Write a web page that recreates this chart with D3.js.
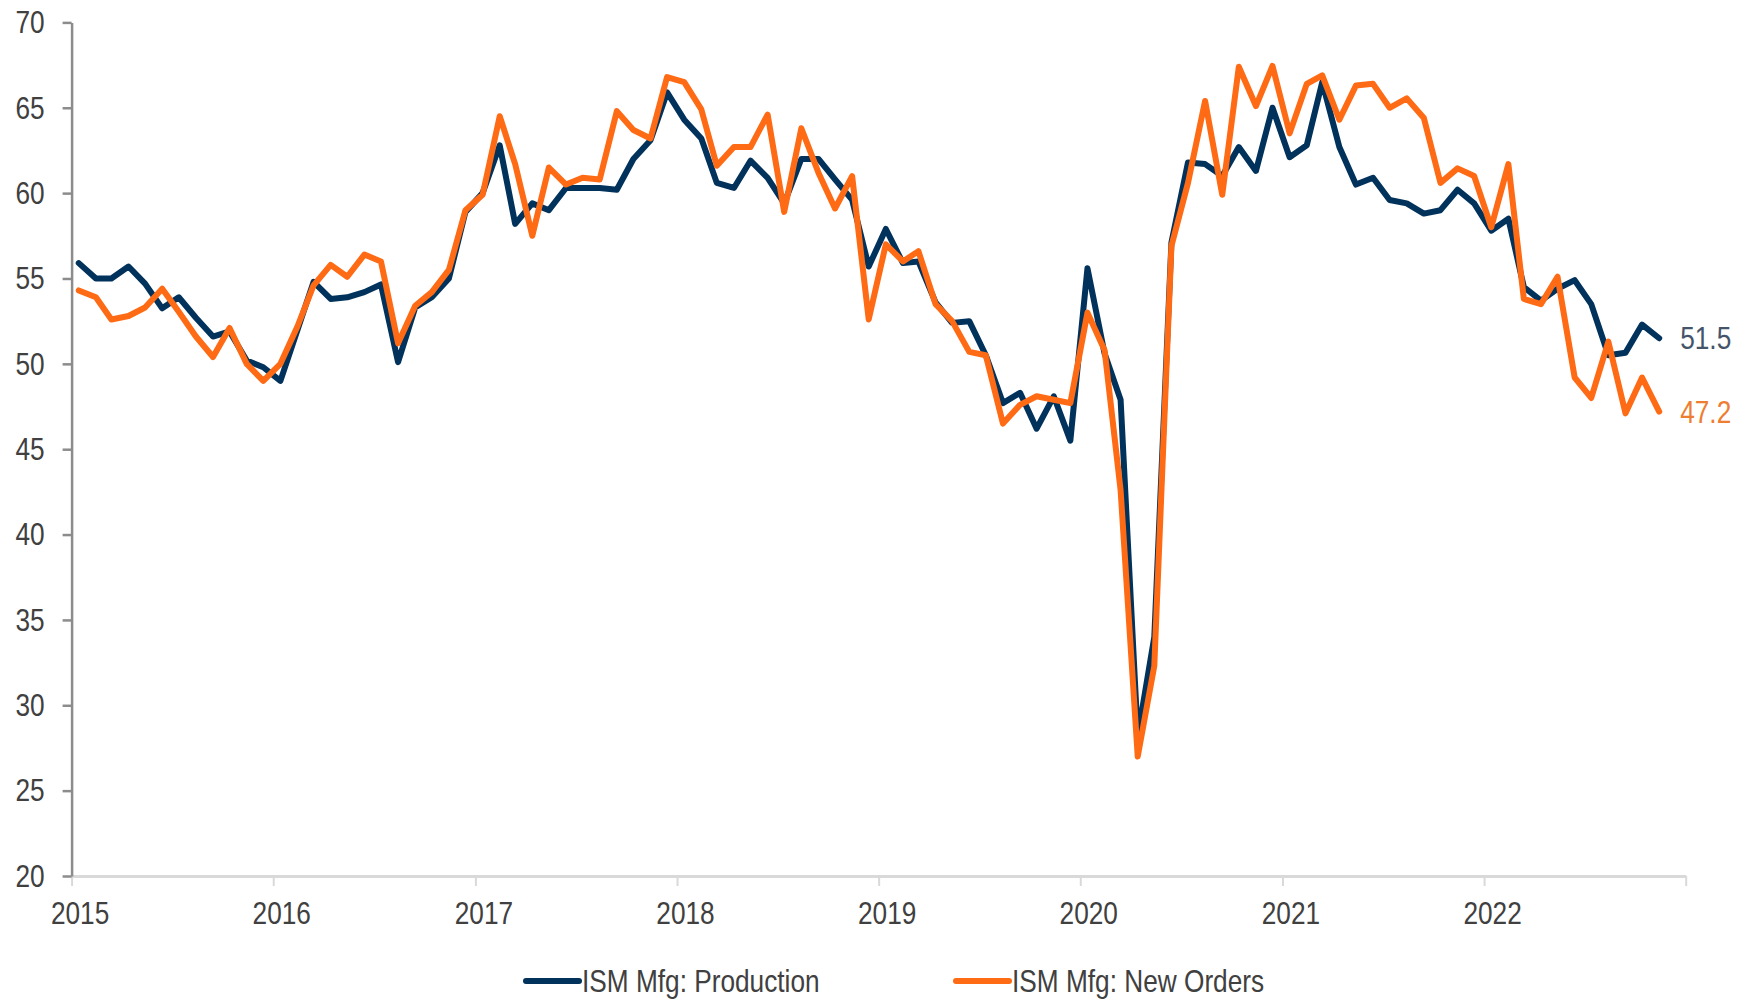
<!DOCTYPE html>
<html>
<head>
<meta charset="utf-8">
<script src="https://cdn.jsdelivr.net/npm/d3@7"></script>
<style>
  body { margin: 0; background: #fff; }
  svg text { font-family: "Liberation Sans", Arial, sans-serif; }
</style>
</head>
<body>
<svg width="1754" height="1000"></svg>
<script>
// monthly, Jan 2015 .. Nov 2022
const startYear = 2015;
const production = [
  55.9, 55.0, 55.0, 55.7, 54.7, 53.25, 53.9, 52.7, 51.6, 51.9, 50.2, 49.8,
  49.0, 52.0, 54.8, 53.8, 53.9, 54.2, 54.65, 50.1, 53.3, 53.9, 55.0, 58.9,
  60.0, 62.8, 58.2, 59.4, 59.0, 60.3, 60.3, 60.3, 60.2, 62.0, 63.1, 65.9,
  64.3, 63.2, 60.6, 60.3, 61.9, 60.9, 59.4, 62.0, 62.0, 60.8, 59.6, 55.7,
  57.9, 55.9, 56.0, 53.6, 52.4, 52.5, 50.5, 47.7, 48.3, 46.2, 48.1, 45.5,
  55.6, 50.6, 47.9, 28.2, 34.0, 57.1, 61.8, 61.7, 61.0, 62.7, 61.3, 65.0,
  62.1, 62.8, 66.5, 62.7, 60.5, 60.9, 59.6, 59.4, 58.8, 59.0, 60.2, 59.4,
  57.8, 58.5, 54.5, 53.7, 54.4, 54.9, 53.5, 50.5, 50.65, 52.3, 51.5
];
const newOrders = [
  54.3, 53.9, 52.6, 52.8, 53.3, 54.4, 53.05, 51.6, 50.4, 52.1, 50.0, 49.0,
  50.0, 52.2, 54.6, 55.8, 55.1, 56.4, 56.0, 51.2, 53.4, 54.2, 55.5, 59.0,
  59.9, 64.5, 61.7, 57.5, 61.5, 60.5, 60.9, 60.8, 64.8, 63.7, 63.2, 66.8,
  66.5, 64.9, 61.6, 62.7, 62.7, 64.6, 58.9, 63.8, 61.2, 59.1, 61.0, 52.6,
  57.0, 56.0, 56.6, 53.5, 52.5, 50.7, 50.5, 46.5, 47.6, 48.1, 47.9, 47.7,
  53.0, 50.8, 42.6, 27.0, 32.3, 56.9, 60.6, 65.4, 59.9, 67.4, 65.1, 67.45,
  63.5, 66.4, 66.9, 64.3, 66.3, 66.4, 65.0, 65.55, 64.4, 60.6, 61.45, 61.0,
  58.0, 61.7, 53.8, 53.5, 55.1, 49.2, 48.0, 51.3, 47.1, 49.2, 47.2
];
const seriesNames = ["ISM Mfg: Production", "ISM Mfg: New Orders"];
const yTicks = [20, 25, 30, 35, 40, 45, 50, 55, 60, 65, 70];
const yearTicks = [2015, 2016, 2017, 2018, 2019, 2020, 2021, 2022, 2023];

const navy = "#00325c";
const orange = "#ff6a14";
const narrow = 0.82; // squeeze Liberation Sans to look like Arial Narrow

const svg = d3.select("svg");

// move x/y of a text into a transform so it can be squeezed horizontally
function squeeze(sel) {
  sel.each(function() {
    const t = d3.select(this);
    const tx = +t.attr("x") || 0, ty = +t.attr("y") || 0;
    t.attr("x", 0).attr("y", 0)
      .attr("transform", `translate(${tx},${ty}) scale(${narrow},1)`);
  });
}

const dates = production.map((_, i) => new Date(startYear, i, 14));

const x = d3.scaleTime()
  .domain([new Date(2015, 0, 1), new Date(2023, 0, 1)])
  .range([71.6, 1685.7]);
const y = d3.scaleLinear()
  .domain([20, 70])
  .range([876, 22.4]);

// x axis (light grey, year ticks)
const xAxis = svg.append("g")
  .attr("transform", "translate(0,876)")
  .call(d3.axisBottom(x)
    .tickValues(yearTicks.map(t => new Date(t, 0, 1)))
    .tickSize(10)
    .tickSizeOuter(0)
    .tickFormat(d => d.getFullYear() < 2023 ? d.getFullYear() : ""));
xAxis.select(".domain").attr("stroke", "#d9d9d9").attr("stroke-width", 3);
xAxis.selectAll(".tick line").attr("stroke", "#d9d9d9").attr("stroke-width", 2);
xAxis.selectAll(".tick text")
  .attr("fill", "#404040")
  .attr("font-size", 32)
  .attr("x", 8)
  .attr("y", 25)
  .attr("dy", "0.71em")
  .call(squeeze);

// y axis (grey)
const yAxis = svg.append("g")
  .attr("transform", "translate(71.6,0)")
  .call(d3.axisLeft(y)
    .tickValues(yTicks)
    .tickSize(9)
    .tickPadding(18)
    .tickSizeOuter(0));
yAxis.select(".domain").attr("stroke", "#8c8c8c").attr("stroke-width", 2.5);
yAxis.selectAll(".tick line").attr("stroke", "#8c8c8c").attr("stroke-width", 2.5);
yAxis.selectAll(".tick text")
  .attr("fill", "#404040")
  .attr("font-size", 32)
  .call(squeeze);

const line = d3.line()
  .x((d, i) => x(dates[i]))
  .y(d => y(d));

svg.append("path")
  .datum(production)
  .attr("d", line)
  .attr("fill", "none")
  .attr("stroke", navy)
  .attr("stroke-width", 6)
  .attr("stroke-linejoin", "round")
  .attr("stroke-linecap", "round");

svg.append("path")
  .datum(newOrders)
  .attr("d", line)
  .attr("fill", "none")
  .attr("stroke", orange)
  .attr("stroke-width", 6)
  .attr("stroke-linejoin", "round")
  .attr("stroke-linecap", "round");

// last value labels
const last = production.length - 1;
svg.append("text")
  .attr("x", x(dates[last]) + 21)
  .attr("y", y(production[last]))
  .attr("dy", "0.35em")
  .attr("font-size", 32)
  .attr("fill", "#44546a")
  .text(production[last].toFixed(1))
  .call(squeeze);
svg.append("text")
  .attr("x", x(dates[last]) + 21)
  .attr("y", y(newOrders[last]))
  .attr("dy", "0.35em")
  .attr("font-size", 32)
  .attr("fill", "#ed7d31")
  .text(newOrders[last].toFixed(1))
  .call(squeeze);

// legend
const legendItems = [
  { name: seriesNames[0], color: navy, x: 526 },
  { name: seriesNames[1], color: orange, x: 956 }
];
const legend = svg.selectAll(".legend")
  .data(legendItems)
  .enter().append("g")
  .attr("class", "legend")
  .attr("transform", d => `translate(${d.x},981)`);
legend.append("line")
  .attr("x1", 0).attr("x2", 53)
  .attr("stroke", d => d.color)
  .attr("stroke-width", 6)
  .attr("stroke-linecap", "round");
legend.append("text")
  .attr("x", 56)
  .attr("dy", "0.35em")
  .attr("font-size", 32)
  .attr("fill", "#404040")
  .text(d => d.name)
  .call(squeeze);
</script>
</body>
</html>
